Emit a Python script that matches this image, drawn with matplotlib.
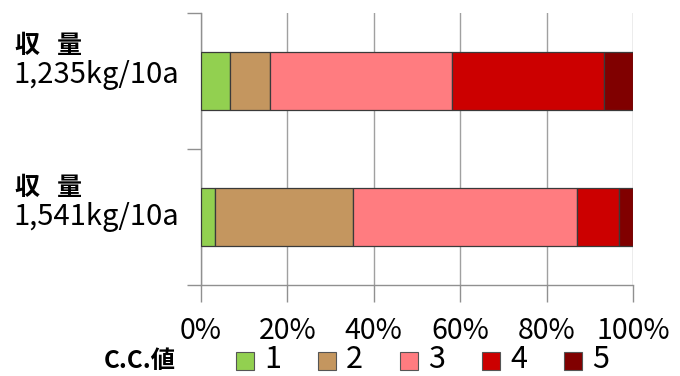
import matplotlib.pyplot as plt
import matplotlib.patches as mpatches

plt.rcParams['font.family'] = ['Noto Sans CJK JP', 'DejaVu Sans']

# share of each C.C. class (%), one list per yield group
groups = ['1,235kg/10a', '1,541kg/10a']
cc_classes = ['1', '2', '3', '4', '5']
shares_1235 = [6.6, 9.4, 42.0, 35.3, 6.7]
shares_1541 = [3.2, 32.1, 51.8, 9.7, 3.2]
colors = ['#92D050', '#C4965F', '#FF7C80', '#CC0000', '#800000']
xticks = [0, 20, 40, 60, 80, 100]

W, H = 680, 376
fig = plt.figure(figsize=(6.8, 3.76), dpi=100)
ax = fig.add_axes([201 / W, 1 - 285 / H, 432 / W, 272 / H])

ypos = [1.5, 0.5]
for y, shares in zip(ypos, [shares_1235, shares_1541]):
    left = 0
    for val, col in zip(shares, colors):
        ax.barh(y, val, left=left, height=0.42, color=col,
                edgecolor='#3a3a3a', linewidth=0.9, zorder=3)
        left += val

ax.set_xlim(0, 100)
ax.set_ylim(0, 2)
ax.set_xticks(xticks)
ax.set_xticklabels([f'{t}%' for t in xticks], fontsize=20.5)
ax.set_yticks([0, 1, 2])
ax.set_yticklabels([])
ax.tick_params(axis='x', length=12, color='#909090', width=1, pad=10)
ax.tick_params(axis='y', length=10, color='#909090', width=1)
ax.grid(axis='x', color='#A0A0A0', linewidth=1, zorder=0)
for s in ['top', 'right']:
    ax.spines[s].set_visible(False)
for s in ['left', 'bottom']:
    ax.spines[s].set_color('#909090')
    ax.spines[s].set_linewidth(1)

# category labels on the left
for yc, g in zip([46, 188], groups):
    fig.text(14 / W, 1 - yc / H, '収', fontsize=18, fontweight='bold',
             va='center', ha='left')
    fig.text(57 / W, 1 - yc / H, '量', fontsize=18, fontweight='bold',
             va='center', ha='left')
    fig.text(13 / W, 1 - (yc + 29) / H, g, fontsize=21, va='center', ha='left')

# legend drawn by hand
ly = 361
fig.text(104 / W, 1 - ly / H, 'C.C.値', fontsize=17.5, fontweight='bold',
         va='center', ha='left')
for i, (lab, col) in enumerate(zip(cc_classes, colors)):
    x0 = 236 + i * 82
    fig.patches.append(mpatches.Rectangle((x0 / W, 1 - (ly + 9) / H), 18 / W, 18 / H,
                                          transform=fig.transFigure, facecolor=col,
                                          edgecolor='#555555', linewidth=0.8))
    fig.text((x0 + 28) / W, 1 - (ly - 1) / H, lab, fontsize=22, va='center', ha='left')

fig.savefig('out.png', dpi=100)
